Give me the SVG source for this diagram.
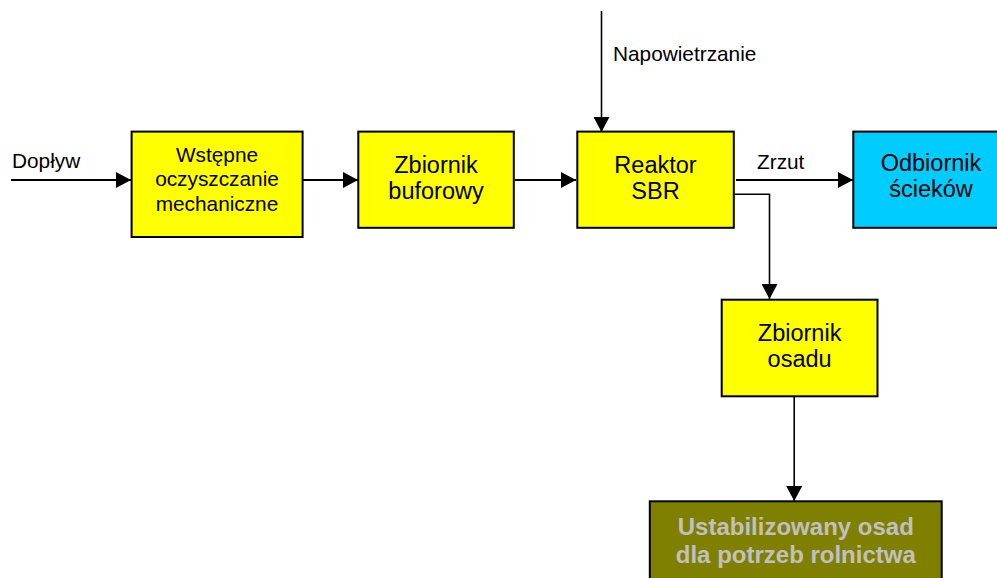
<svg xmlns="http://www.w3.org/2000/svg" width="997" height="578" viewBox="0 0 997 578">
<style>
  .box{stroke:#000;stroke-width:2}
  .yellow{fill:#ffff00}
  .blue{fill:#00ccff}
  .olive{fill:#808000}
  .t{font-family:"Liberation Sans",Arial,sans-serif;fill:#000}
  .big{font-size:23.5px;text-anchor:middle}
  .mid{font-size:20.8px;text-anchor:middle}
  .lbl{font-size:20.8px}
  .bold{font-size:24px;font-weight:bold;fill:#c0c0c0;text-anchor:middle}
  .c{stroke:#000;fill:none}
</style>
<defs>
  <marker id="ah" markerUnits="userSpaceOnUse" markerWidth="16" markerHeight="16" refX="15" refY="8" orient="auto">
    <path d="M0,0 L15,8 L0,16 z" fill="#000"/>
  </marker>
</defs>
<rect width="997" height="578" fill="#fff"/>

<g id="connectors">
  <line class="c" x1="11" y1="180" x2="131" y2="180" stroke-width="2" marker-end="url(#ah)"/>
  <line class="c" x1="303" y1="180" x2="358" y2="180" stroke-width="2" marker-end="url(#ah)"/>
  <line class="c" x1="515" y1="180" x2="576" y2="180" stroke-width="2" marker-end="url(#ah)"/>
  <line class="c" x1="601.5" y1="11" x2="601.5" y2="132" stroke-width="1.6" marker-end="url(#ah)"/>
  <line class="c" x1="736" y1="180" x2="853" y2="180" stroke-width="2" marker-end="url(#ah)"/>
  <polyline class="c" points="734,194.3 769.5,194.3 769.5,299" stroke-width="1.6" marker-end="url(#ah)"/>
  <line class="c" x1="794.2" y1="397" x2="794.2" y2="501" stroke-width="1.6" marker-end="url(#ah)"/>
  <text class="t lbl" x="12" y="168">Dopływ</text>
  <text class="t lbl" x="613" y="61" font-size="22px">Napowietrzanie</text>
  <text class="t lbl" x="757" y="169">Zrzut</text>
</g>

<g id="n1">
  <rect class="box yellow" x="131.6" y="131.6" width="171" height="105.4"/>
  <text class="t mid" x="217" y="161.7">Wstępne</text>
  <text class="t mid" x="217" y="186.2">oczyszczanie</text>
  <text class="t mid" x="217" y="210.7">mechaniczne</text>
</g>

<g id="n2">
  <rect class="box yellow" x="358.3" y="131.6" width="155.5" height="96.2"/>
  <text class="t big" x="436" y="173.3">Zbiornik</text>
  <text class="t big" x="436" y="199.3">buforowy</text>
</g>

<g id="n3">
  <rect class="box yellow" x="577.3" y="131.6" width="156.5" height="96.2"/>
  <text class="t big" x="655.5" y="173.3">Reaktor</text>
  <text class="t big" x="655.5" y="199.3">SBR</text>
</g>

<g id="n4">
  <rect class="box blue" x="853.3" y="131.6" width="156" height="96.2"/>
  <text class="t big" x="931" y="171">Odbiornik</text>
  <text class="t big" x="931" y="197">ścieków</text>
</g>

<g id="n5">
  <rect class="box yellow" x="721.7" y="299.7" width="155.8" height="96.6"/>
  <text class="t big" x="799.6" y="341">Zbiornik</text>
  <text class="t big" x="799.6" y="367.3">osadu</text>
</g>

<g id="n6">
  <rect class="box olive" x="649.8" y="501.3" width="291.9" height="90"/>
  <text class="t bold" x="795.8" y="535">Ustabilizowany osad</text>
  <text class="t bold" x="795.8" y="562.7">dla potrzeb rolnictwa</text>
</g>
</svg>
